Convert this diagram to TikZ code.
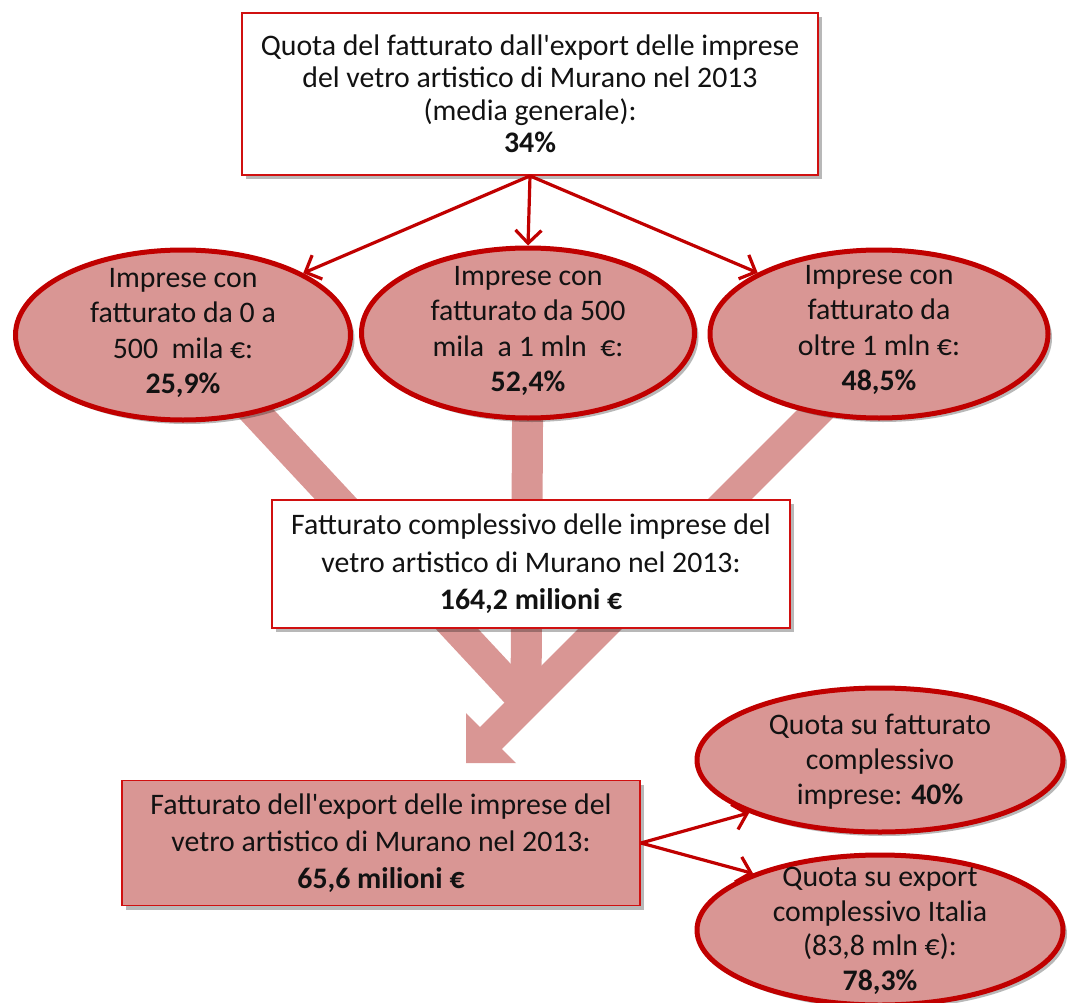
\documentclass[tikz,border=0pt]{standalone}
\usepackage{fontspec}
\setmainfont{Carlito}
\usetikzlibrary{shapes.geometric,shadows,arrows.meta}
\definecolor{pinkf}{RGB}{217,150,148}
\definecolor{dred}{RGB}{192,0,0}
\definecolor{bred}{RGB}{208,16,16}
\definecolor{txtc}{RGB}{18,18,18}
\pgfdeclarelayer{bg}
\pgfsetlayers{bg,main}
\begin{document}
\begin{tikzpicture}[x=1pt,y=-1pt,
  shad/.style={drop shadow={shadow xshift=4pt,shadow yshift=-4pt,fill=black,opacity=0.28}},
  box/.style={draw=bred,line width=1.8pt,fill=white,shad,align=center,text=txtc,inner sep=0pt},
  ell/.style={ellipse,draw=dred,line width=5pt,fill=pinkf,inner sep=0pt,shad},
  etxt/.style={align=center,text=txtc,inner sep=0pt},
  conn/.style={draw=dred,line width=3.2pt,-{Straight Barb[length=13pt,width=26pt,line width=3.2pt]}},
  stripe/.style={draw=pinkf,line width=31pt}]
\useasboundingbox (0,0) rectangle (1070,1003);

% top box
\node[box,minimum width=576pt,minimum height=162pt,font=\fontsize{29.8}{32.5}\selectfont] (top) at (530,94)
  {Quota del fatturato dall\textquotesingle export delle imprese\\del vetro artistico di Murano nel 2013\\(media generale):\\\textbf{34\%}};

% ellipses
\node[ell,minimum width=335pt,minimum height=170pt] (e1) at (183,335) {};
\node[etxt,font=\fontsize{29.8}{35.5}\selectfont] (t1) at (183,333) {Imprese con\\fatturato da 0 a\\500\ \ mila €:\\\textbf{25,9\%}};
\node[ell,minimum width=333pt,minimum height=170pt] (e2) at (528,333) {};
\node[etxt,font=\fontsize{29.8}{35.5}\selectfont] (t2) at (528,331) {Imprese con\\fatturato da 500\\mila\ \ a 1 mln\ \ €:\\\textbf{52,4\%}};
\node[ell,minimum width=338pt,minimum height=168pt] (e3) at (879,334) {};
\node[etxt,font=\fontsize{29.8}{35.5}\selectfont] (t3) at (879,330) {Imprese con\\fatturato da\\oltre 1 mln €:\\\textbf{48,5\%}};

% middle box
\node[box,minimum width=518pt,minimum height=128pt,font=\fontsize{29.8}{37.5}\selectfont] (mid) at (531,564)
  {Fatturato complessivo delle imprese del\\vetro artistico di Murano nel 2013:\\\textbf{164,2 milioni €}};

% bottom box
\node[box,fill=pinkf,minimum width=518pt,minimum height=125pt,font=\fontsize{29.8}{37}\selectfont] (bot) at (381,843)
  {Fatturato dell\textquotesingle export delle imprese del\\vetro artistico di Murano nel 2013:\\\textbf{65,6 milioni €}};

% bottom right ellipses
\node[ell,minimum width=366pt,minimum height=144pt] (e4) at (880,760) {};
\node[etxt,font=\fontsize{29.8}{35}\selectfont] (t4) at (880,762) {Quota su fatturato\\complessivo\\imprese: \textbf{40\%}};
\node[ell,minimum width=366pt,minimum height=150pt] (e5) at (880,930) {};
\node[etxt,font=\fontsize{29.8}{34.5}\selectfont] (t5) at (880,931) {Quota su export\\complessivo Italia\\(83,8 mln €):\\\textbf{78,3\%}};

% connectors
\draw[conn] (top.south) -- (e1.north east);
\draw[conn] (top.south) -- (e2.north);
\draw[conn] (top.south) -- (e3.north west);
\draw[conn] (bot.east) -- (e4.202);
\draw[conn] (bot.east) -- (e5.156);

% wide arrow
\begin{pgfonlayer}{bg}
\coordinate (M) at (526,703);
\coordinate (R) at (895,334);
\coordinate (B) at (489,740);
\coordinate (T) at (466,763);
\coordinate (H1) at (466,713);
\coordinate (H2) at (516,763);
\draw[stripe] (e1.center) -- (M);
\draw[stripe] (e2.center) -- (M);
\draw[stripe] (R) -- (B);
\fill[pinkf] (T) -- (H1) -- (H2) -- cycle;
\end{pgfonlayer}
\end{tikzpicture}
\end{document}
